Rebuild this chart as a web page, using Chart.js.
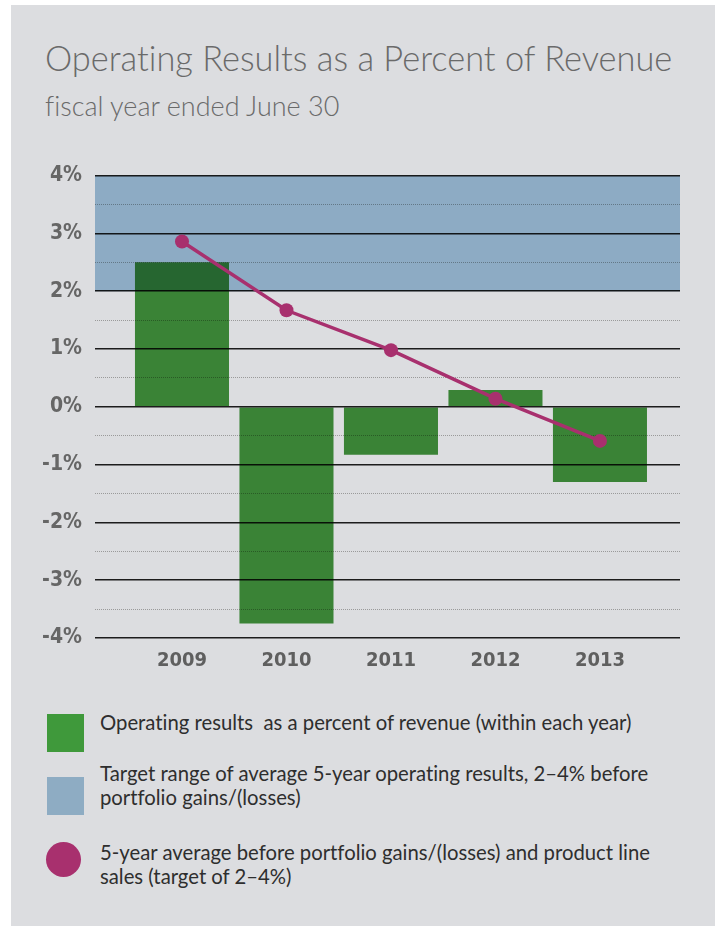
<!DOCTYPE html>
<html lang="en">
<head>
    <meta charset="UTF-8">
    <title>Operating Results as a Percent of Revenue</title>
    <style>
        * {
            margin: 0;
            padding: 0;
            box-sizing: border-box;
        }

        body {
            width: 715px;
            height: 926px;
            background-color: #fff;
            overflow: hidden;
            position: relative;
            font-family: Lato, "Open Sans", sans-serif;
            font-variant-ligatures: none;
        }

        #panel {
            position: absolute;
            left: 11px;
            top: 5px;
            width: 704px;
            height: 921px;
            background-color: #dcdde0;
        }

        h1 {
            position: absolute;
            left: 45px;
            top: 41px;
            font-size: 34.4px;
            font-weight: 300;
            line-height: 1;
            color: #6a6a6a;
            white-space: nowrap;
        }

        h2 {
            position: absolute;
            left: 45px;
            top: 92px;
            font-size: 27px;
            font-weight: 300;
            line-height: 1;
            color: #6a6a6a;
            white-space: nowrap;
        }

        #chart {
            position: absolute;
            left: 11px;
            top: 150px;
        }

        .swatch {
            position: absolute;
            left: 47px;
            width: 37px;
            height: 38px;
        }

        .legend-text {
            position: absolute;
            left: 100px;
            font-size: 20.3px;
            line-height: 24px;
            color: #2e2e2e;
            white-space: nowrap;
        }
    </style>
</head>
<body>
    <div id="panel"></div>
    <h1>Operating Results as a Percent of Revenue</h1>
    <h2>fiscal year ended June 30</h2>

    <canvas id="chart" width="704" height="528"></canvas>

    <div class="swatch" style="top: 714px; background: #3f993b;"></div>
    <div class="legend-text" style="top: 710px;">Operating results&nbsp; as a percent of revenue (within each year)</div>

    <div class="swatch" style="top: 777px; background: #8eacc3;"></div>
    <div class="legend-text" style="top: 761px;">Target range of average 5-year operating results, 2–4% before<br>portfolio gains/(losses)</div>

    <div class="swatch" style="top: 842px; left: 46px; width: 35px; height: 35px; border-radius: 50%; background: #a8306e;"></div>
    <div class="legend-text" style="top: 840px;">5-year average before portfolio gains/(losses) and product line<br>sales (target of 2–4%)</div>

    <script src="https://cdn.jsdelivr.net/npm/chart.js"></script>
    <script>
// values
const years = ['2009', '2010', '2011', '2012', '2013'];
const operatingResults = [2.5, -3.75, -0.83, 0.29, -1.3];
const fiveYearAverage = [2.86, 1.67, 0.98, 0.14, -0.59];
const targetRange = [2, 4];
const yTickValues = [-4, -3.5, -3, -2.5, -2, -1.5, -1, -0.5, 0, 0.5, 1, 1.5, 2, 2.5, 3, 3.5, 4];

const panelColor = '#dcdde0';
const tickFont = '"DejaVu Sans Condensed", "Liberation Sans", sans-serif';

// canvas background, so multiply blending has something to mix with
const backgroundPlugin = {
    id: 'panelBackground',
    beforeDraw(chart) {
        const ctx = chart.ctx;
        ctx.save();
        ctx.fillStyle = panelColor;
        ctx.fillRect(0, 0, chart.width, chart.height);
        ctx.restore();
    }
};

// bars and the target band are multiplied over the grid, the line stays on top
const blendPlugin = {
    id: 'blendBand',
    beforeDatasetDraw(chart, args) {
        if (args.index !== 0) return;
        chart.ctx.save();
        chart.ctx.globalCompositeOperation = 'multiply';
    },
    afterDatasetDraw(chart, args) {
        if (args.index !== 0) return;
        const ctx = chart.ctx;
        const area = chart.chartArea;
        const y = chart.scales.y;
        const top = y.getPixelForValue(targetRange[1]);
        const bottom = y.getPixelForValue(targetRange[0]);
        ctx.fillStyle = 'rgb(164, 198, 223)';
        ctx.fillRect(area.left, top, area.right - area.left, bottom - top);
        ctx.restore();
    }
};

new Chart(document.getElementById('chart'), {
    data: {
        datasets: [{
            type: 'bar',
            label: 'Operating results as a percent of revenue',
            data: operatingResults.map((v, i) => ({ x: i, y: v })),
            backgroundColor: 'rgb(67, 151, 61)',
            borderWidth: 0,
            categoryPercentage: 1,
            barPercentage: 0.9,
            order: 2
        }, {
            type: 'line',
            label: '5-year average',
            data: fiveYearAverage.map((v, i) => ({ x: i, y: v })),
            borderColor: '#a8306e',
            backgroundColor: '#a8306e',
            borderWidth: 3.5,
            pointRadius: 7,
            pointBorderWidth: 0,
            pointBackgroundColor: '#a8306e',
            tension: 0,
            order: 1
        }]
    },
    options: {
        responsive: false,
        animation: false,
        devicePixelRatio: 1,
        layout: {
            padding: { left: 0, right: 35, top: 24, bottom: 0 }
        },
        plugins: {
            legend: { display: false },
            tooltip: { enabled: false }
        },
        scales: {
            x: {
                type: 'linear',
                offset: false,
                min: -0.8325,
                max: 4.766,
                afterBuildTicks: scale => {
                    scale.ticks = years.map((_, i) => ({ value: i }));
                },
                afterFit: scale => {
                    scale.height = 40;
                },
                grid: { display: false, offset: false },
                border: { display: false },
                ticks: {
                    autoSkip: false,
                    maxRotation: 0,
                    padding: 3,
                    color: '#5f5f5f',
                    font: { family: tickFont, weight: 'bold', size: 20 },
                    callback: v => years[v] ?? ''
                }
            },
            y: {
                min: -4,
                max: 4,
                afterBuildTicks: scale => {
                    scale.ticks = yTickValues.map(v => ({ value: v }));
                },
                afterFit: scale => {
                    scale.width = 84;
                },
                grid: {
                    drawTicks: false,
                    color: ctx => Number.isInteger(ctx.tick.value) ? '#1c1c1c' : '#9a9a9a',
                    lineWidth: ctx => Number.isInteger(ctx.tick.value) ? 1.6 : 1
                },
                border: {
                    display: false,
                    dash: ctx => (ctx.tick && !Number.isInteger(ctx.tick.value)) ? [1, 1] : []
                },
                ticks: {
                    autoSkip: false,
                    padding: 13,
                    color: '#666666',
                    font: { family: tickFont, weight: 'bold', size: 21 },
                    callback: v => Number.isInteger(v) ? v + '%' : ''
                }
            }
        }
    },
    plugins: [backgroundPlugin, blendPlugin]
});
    </script>
</body>
</html>
